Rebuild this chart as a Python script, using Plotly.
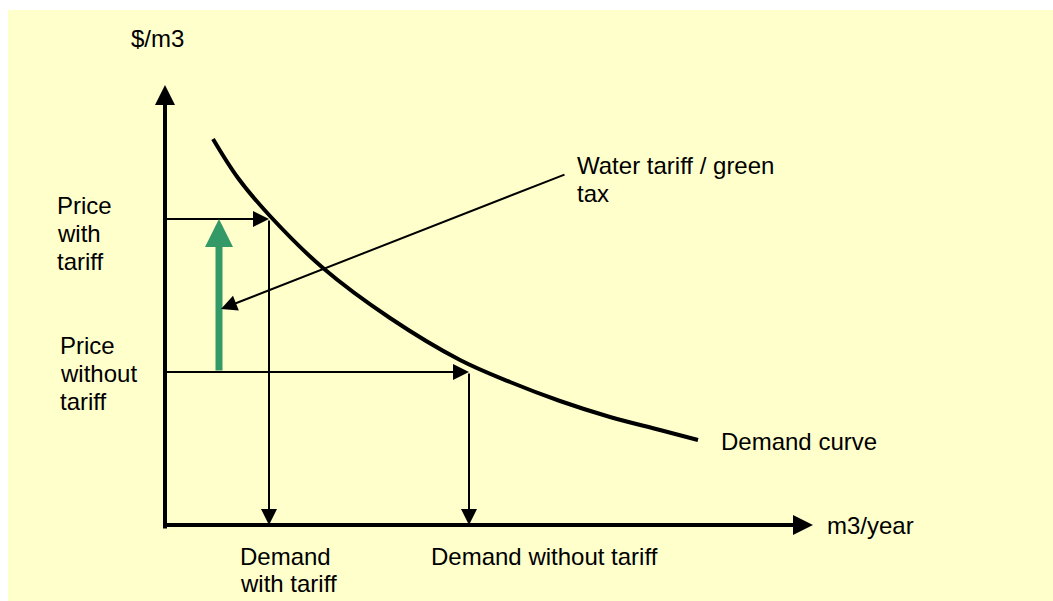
import plotly.graph_objects as go

# ---- data (conceptual units: quantity Q on x, price P on y) ----
curve_q = [0.96, 1.46, 2.10, 3.16, 4.50, 5.90, 6.90, 7.90, 8.90, 9.90, 10.66]
curve_p = [7.72, 6.94, 6.18, 5.14, 4.14, 3.30, 2.86, 2.48, 2.16, 1.90, 1.70]

q_with_tariff = 2.08
q_without_tariff = 6.08
p_with_tariff = 6.12
p_without_tariff = 3.06

axis_q_max = 12.96
axis_p_max = 8.8
tariff_arrow_q = 1.08
callout_from = (8.02, 7.02)
callout_to = (1.12, 4.32)

# text labels: (text, x, y, anchor) — multi-line labels split per line
label_items = [
    ("$/m3", -0.16, 9.74, "center"),
    ("m3/year", 13.20, 0.0, "left"),
    ("Price", -2.20, 6.40, "left"),
    ("with", -2.20, 5.84, "left"),
    ("tariff", -2.20, 5.28, "left"),
    ("Price", -2.14, 3.60, "left"),
    ("without", -2.14, 3.04, "left"),
    ("tariff", -2.14, 2.48, "left"),
    ("Demand", 1.46, -0.62, "left"),
    ("with tariff", 1.46, -1.17, "left"),
    ("Demand without tariff", 5.28, -0.62, "left"),
    ("Water tariff / green", 8.20, 7.20, "left"),
    ("tax", 8.20, 6.64, "left"),
    ("Demand curve", 11.08, 1.68, "left"),
]

FONT = dict(family="Liberation Sans, Arial, sans-serif", size=24, color="black")
GREEN = "#339966"
YELLOW = "#FFFFCC"

fig = go.Figure()

fig.add_trace(go.Scatter(
    x=curve_q, y=curve_p, mode="lines",
    line=dict(color="black", width=4, shape="spline", smoothing=1.0),
    hoverinfo="skip", showlegend=False,
))


def arrow(x0, y0, x1, y1, color="black", width=2, head=2, size=1.6):
    fig.add_annotation(
        x=x1, y=y1, ax=x0, ay=y0, xref="x", yref="y", axref="x", ayref="y",
        text="", showarrow=True, arrowhead=head, arrowsize=size,
        arrowwidth=width, arrowcolor=color, standoff=0, startstandoff=0,
    )


# axes
arrow(0, -0.1, 0, axis_p_max, width=4, size=1.0)
arrow(-0.04, 0, axis_q_max, 0, width=4, size=1.0)

# price / demand guide arrows
arrow(0, p_with_tariff, q_with_tariff, p_with_tariff)
arrow(q_with_tariff, p_with_tariff, q_with_tariff, 0)
arrow(0, p_without_tariff, q_without_tariff, p_without_tariff)
arrow(q_without_tariff, p_without_tariff, q_without_tariff, 0)

# green tariff arrow
arrow(tariff_arrow_q, p_without_tariff, tariff_arrow_q, p_with_tariff,
      color=GREEN, width=7, size=0.8)

# callout arrow
arrow(callout_from[0], callout_from[1], callout_to[0], callout_to[1])

for text, x, y, anchor in label_items:
    fig.add_annotation(x=x, y=y, xref="x", yref="y", text=text, showarrow=False,
                       xanchor=anchor, yanchor="middle", align="left", font=FONT)

# white page border strips (top and left) around the yellow panel
fig.add_shape(type="rect", xref="paper", yref="paper",
              x0=-0.01, x1=1.01, y0=1 - 10 / 601, y1=1.01,
              fillcolor="white", line=dict(width=0), layer="below")
fig.add_shape(type="rect", xref="paper", yref="paper",
              x0=-0.01, x1=8 / 1053, y0=-0.01, y1=1.01,
              fillcolor="white", line=dict(width=0), layer="below")

fig.update_layout(
    width=1053, height=601,
    margin=dict(l=0, r=0, t=0, b=0),
    paper_bgcolor=YELLOW, plot_bgcolor="rgba(0,0,0,0)",
    xaxis=dict(range=[-3.3, 17.76], visible=False, fixedrange=True),
    yaxis=dict(range=[-1.52, 10.5], visible=False, fixedrange=True),
    showlegend=False,
)

fig.write_html(
    "out.html",
    config={"displayModeBar": False},
    post_script="document.body.style.margin='0';document.body.style.overflow='hidden';"
                "document.body.style.background='#FFFFCC';",
)
